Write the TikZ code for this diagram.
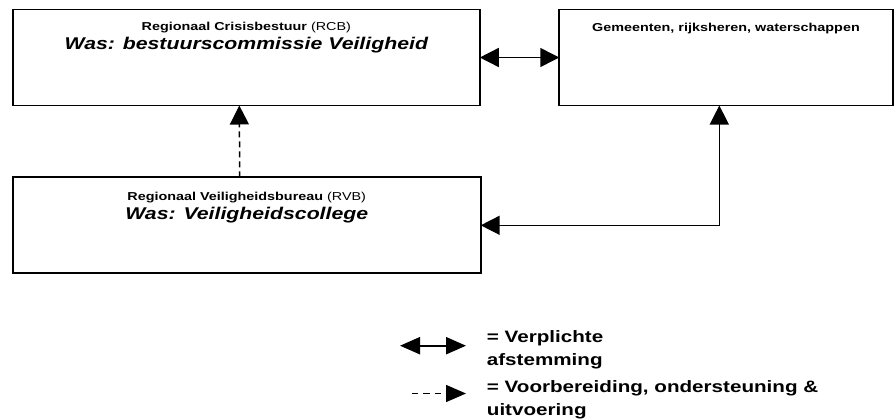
\documentclass[tikz,border=0pt]{standalone}
\usepackage{fontspec}
\setmainfont{Liberation Sans}[FakeStretch=1.25]
\usetikzlibrary{arrows.meta,positioning,calc}

\begin{document}
\begin{tikzpicture}[
  x=1pt, y=-1pt,
  >={Triangle[length=19pt, width=19pt]},
  box/.style={rectangle, draw=black, line width=1.8pt, outer sep=0pt, inner sep=0pt},
  hdr/.style={font=\fontsize{11.5}{13}\selectfont\bfseries, anchor=base, inner sep=0pt},
  was/.style={font=\fontsize{17}{20}\selectfont\bfseries\itshape, anchor=base, inner sep=0pt},
  tr/.style={<->, line width=1.5pt},
  dsh/.style={->, line width=1.5pt, dash pattern=on 6pt off 4pt},
  lgd/.style={font=\fontsize{16.5}{23}\selectfont\bfseries, align=left, anchor=north west, inner sep=0pt},
]
\useasboundingbox (0,0) rectangle (894,418);

\node[box, minimum width=467pt, minimum height=96pt] (rcb) at (246.3,57.5) {};
\node[box, minimum width=333.5pt, minimum height=96pt] (gem) at (726,57.5) {};
\node[box, minimum width=468pt, minimum height=96pt] (rvb) at (246.7,225.3) {};

\node[hdr] (rcbname) at ([yshift=-20.7pt]rcb.north) {Regionaal Crisisbestuur \mdseries(RCB)};
\node[was] (rcbwas)  at ([yshift=-40pt]rcb.north) {Was: bestuurscommissie Veiligheid};
\node[hdr] (gemname) at ([yshift=-21.7pt]gem.north) {Gemeenten, rijksheren, waterschappen};
\node[hdr] (rvbname) at ([yshift=-22.7pt]rvb.north) {Regionaal Veiligheidsbureau \mdseries(RVB)};
\node[was] (rvbwas)  at ([yshift=-41.7pt]rvb.north) {Was: Veiligheidscollege};

\draw[tr] (rcb.east) -- (gem.west);
\draw[dsh] ([xshift=-7pt]rvb.north) -- ([xshift=-7pt]rcb.south);
\draw[tr] (rvb.east) -| ([xshift=-6.7pt]gem.south);

% legenda
\coordinate (l1a) at (400,345.7);
\coordinate (l1b) at (466,345.7);
\coordinate (l2a) at (411.7,393.5);
\coordinate (l2b) at (466,393.5);
\draw[{Triangle[length=20pt,width=17pt]}-{Triangle[length=20pt,width=17pt]}, line width=2.2pt] (l1a) -- (l1b);
\draw[-{Triangle[length=20pt,width=17pt]}, line width=1.5pt, dash pattern=on 6.5pt off 5pt] (l2a) -- (l2b);
\node[lgd] (lg1) at (486.7,330.5) {= Verplichte\\afstemming};
\node[lgd] (lg2) at (486.7,380.5) {= Voorbereiding, ondersteuning \&\\uitvoering};

\end{tikzpicture}
\end{document}
